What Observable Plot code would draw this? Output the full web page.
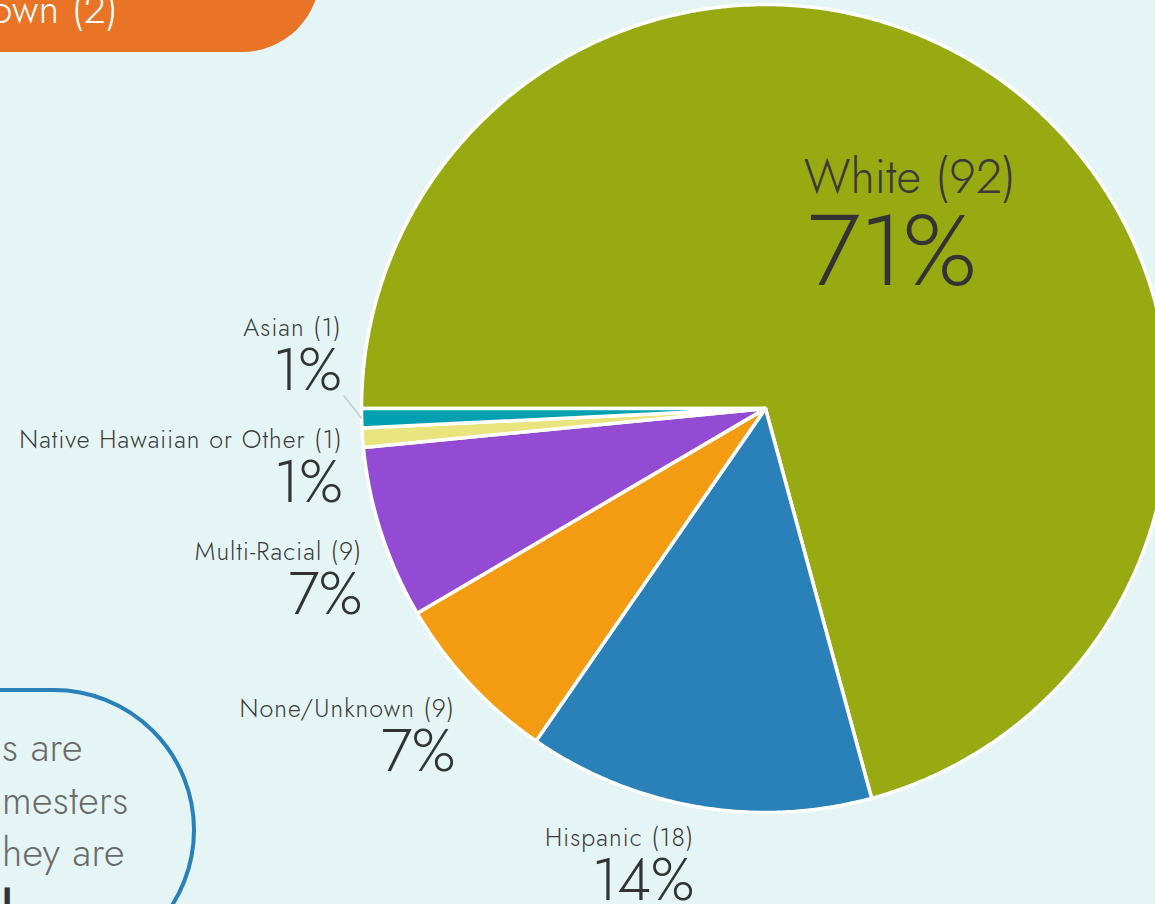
<!DOCTYPE html>
<html><head><meta charset="utf-8">
<script src="https://cdn.jsdelivr.net/npm/d3@7"></script>
<script src="https://cdn.jsdelivr.net/npm/@observablehq/plot@0.6"></script>
<style>
html,body{margin:0;padding:0;background:#e5f5f5;overflow:hidden}
#wrap{position:relative;width:1155px;height:904px;overflow:hidden;font-family:Jost,Futura,Lato,sans-serif;font-weight:300}
.badge{position:absolute;left:-300px;top:-80px;width:620px;height:132px;background:#e97425;border-bottom-right-radius:78px}
.badge-text{position:absolute;right:1037px;top:-14px;color:#fff;font-size:40px;white-space:nowrap;line-height:46px;letter-spacing:0.5px}
.note{position:absolute;left:-404px;top:688px;width:600px;height:284px;box-sizing:border-box;border:4px solid #2a80b9;border-radius:142px}
.note-text{position:absolute;left:2px;top:721px;color:#6a6a6a;font-size:40px;line-height:52.5px;white-space:nowrap;letter-spacing:0.3px}
.note-text .dark{color:#333;font-weight:600}
#chart{position:absolute;left:0;top:0}
#chart g[font-size="25"]{letter-spacing:1.1px}
</style></head><body><div id="wrap">
<div class="badge"></div><div class="badge-text">Unknown (2)</div>
<div class="note"></div><div class="note-text">s are<br>mesters<br>hey are<br><span class="dark">l</span></div>
<div id="chart"></div>
</div>
<script>
// ---- data ----
const categories = ["White", "Hispanic", "None/Unknown", "Multi-Racial", "Native Hawaiian or Other", "Asian"];
const counts = [92, 18, 9, 9, 1, 1];
const colors = ["#98aa12", "#2a80b9", "#f39c12", "#944bd3", "#e9e47e", "#00a0b0"];

// ---- layout ----
const W = 1155, H = 904, CX = 765, CY = 408, R = 404;
const FONT = "Jost, Futura, Lato, sans-serif";
const total = d3.sum(counts);
const arcs = d3.pie().sort(null).startAngle(-Math.PI / 2).endAngle(1.5 * Math.PI)(counts);
const slices = arcs.map((a, i) => ({
  name: categories[i], value: counts[i],
  label: `${categories[i]} (${counts[i]})`,
  pct: Math.round(counts[i] / total * 100) + "%",
  a0: a.startAngle, a1: a.endAngle, mid: (a.startAngle + a.endAngle) / 2,
  frac: counts[i] / total
}));

// polygon points for each slice (unit circle)
const pts = [];
for (const s of slices) {
  pts.push({name: s.name, x: 0, y: 0});
  const n = Math.max(2, Math.ceil((s.a1 - s.a0) / (Math.PI / 360)));
  for (let k = 0; k <= n; k++) {
    const a = s.a0 + (s.a1 - s.a0) * k / n;
    pts.push({name: s.name, x: Math.sin(a), y: Math.cos(a)});
  }
}

const toY = py => (CY - py) / R;
const toX = px => (px - CX) / R;

// outside labels, stacked upward to avoid overlap
const outK = 1 + 20 / R;
const outside = slices.filter(s => s.frac < 0.3).map(s => {
  const ax = CX + R * outK * Math.sin(s.mid);
  const ay = CY - R * outK * Math.cos(s.mid);
  return {...s, ax, ay, top: ay};
}).sort((a, b) => b.ay - a.ay);
for (let i = 1; i < outside.length; i++) {
  outside[i].top = Math.min(outside[i].ay, outside[i - 1].top - 112);
}
const outNames = outside.map(d => ({text: d.label, x: toX(d.ax), y: toY(d.top + 20)}));
const outPcts = outside.map(d => ({text: d.pct, x: toX(d.ax), y: toY(d.top + 74)}));
const leaders = outside.filter(d => d.ay - d.top > 50).map(d => ({
  x1: toX(d.ax + 2), y1: toY(d.top + 80),
  x2: Math.sin(d.mid), y2: Math.cos(d.mid)
}));

// inside label
const ctx = document.createElement("canvas").getContext("2d");
function textW(t, size) { ctx.font = `300 ${size}px ${FONT}`; return ctx.measureText(t).width; }
const inside = slices.filter(s => s.frac >= 0.3).map(s => {
  const px = CX + R * 0.6 * Math.sin(s.mid);
  const py = CY - R * 0.6 * Math.cos(s.mid);
  const w = Math.max(textW(s.label, 48), textW(s.pct, 100));
  const left = px - w / 2 - 3;
  return {...s, left, py};
});
const inNames = inside.map(d => ({text: d.label, x: toX(d.left), y: toY(d.py - 23)}));
const inPcts = inside.map(d => ({text: d.pct, x: toX(d.left + 4), y: toY(d.py + 69)}));

const chart = Plot.plot({
  width: W, height: H,
  marginTop: 0, marginRight: 0, marginBottom: 0, marginLeft: 0,
  x: {domain: [toX(0), toX(W)], range: [0, W], axis: null},
  y: {domain: [toY(H), toY(0)], range: [H, 0], axis: null},
  color: {domain: categories, range: colors},
  style: {background: "transparent", overflow: "visible"},
  marks: [
    Plot.line(pts, {x: "x", y: "y", z: "name", fill: "name", stroke: "#ffffff", strokeWidth: 3.5, strokeLinejoin: "round", curve: "linear-closed"}),
    Plot.link(leaders, {x1: "x1", y1: "y1", x2: "x2", y2: "y2", stroke: "#c4cccc", strokeWidth: 1.5}),
    Plot.text(outNames, {x: "x", y: "y", text: "text", textAnchor: "end", lineAnchor: "bottom", fontSize: 25, fontFamily: FONT, fontWeight: 300, fill: "#3a3a3a"}),
    Plot.text(outPcts, {x: "x", y: "y", text: "text", textAnchor: "end", lineAnchor: "bottom", fontSize: 59, fontFamily: FONT, fontWeight: 300, fill: "#333333"}),
    Plot.text(inNames, {x: "x", y: "y", text: "text", textAnchor: "start", lineAnchor: "bottom", fontSize: 48, fontFamily: FONT, fontWeight: 300, fill: "#3a3a3a"}),
    Plot.text(inPcts, {x: "x", y: "y", text: "text", textAnchor: "start", lineAnchor: "bottom", fontSize: 100, fontFamily: FONT, fontWeight: 300, fill: "#333333"})
  ]
});
document.getElementById("chart").appendChild(chart);
</script>
</body></html>
